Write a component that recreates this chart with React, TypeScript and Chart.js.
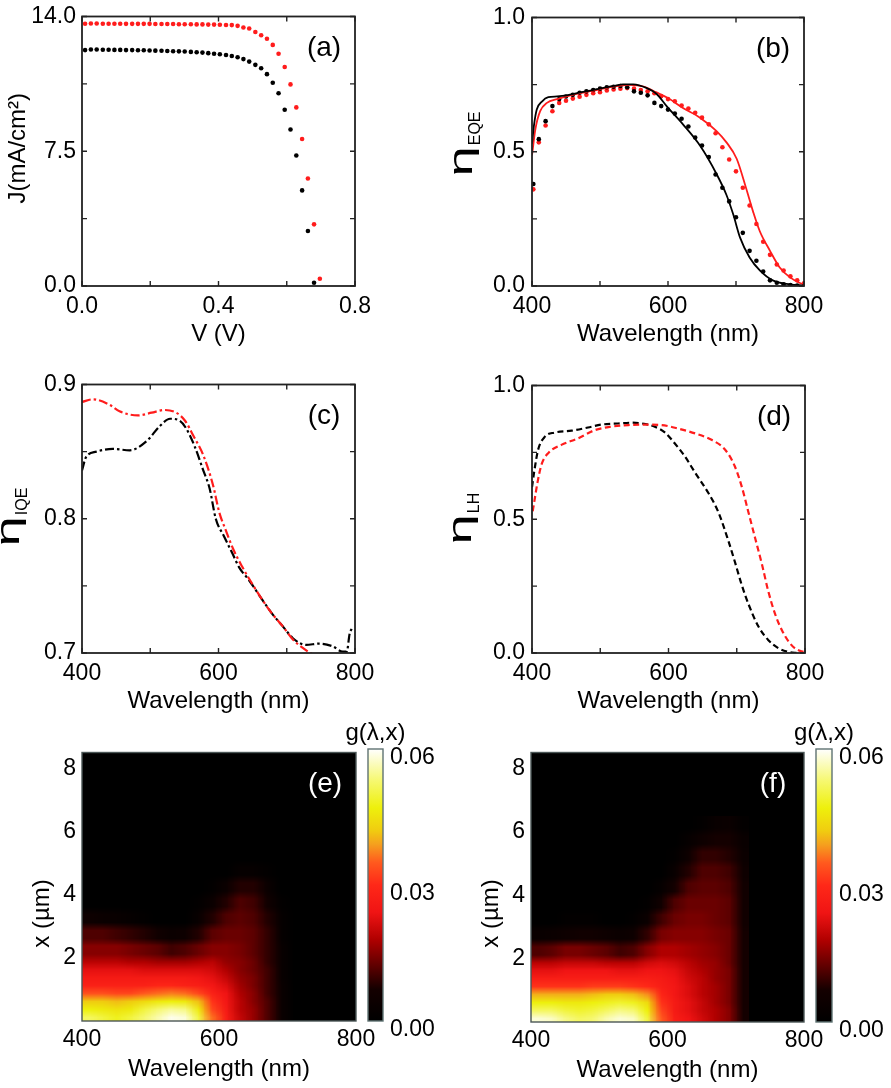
import React, { useEffect, useRef } from "react";
import { Chart, registerables } from "chart.js";
Chart.register(...registerables);

const FONT = '"Liberation Sans", Arial, Helvetica, sans-serif';
const RED = "#ff1c1c";
const BLACK = "#000000";

// ---------- (a) J–V ----------
const jvV = [0.009, 0.026, 0.043, 0.061, 0.078, 0.095, 0.112, 0.129, 0.147, 0.164, 0.181, 0.198, 0.215, 0.233, 0.25, 0.267, 0.284, 0.301, 0.319, 0.336, 0.353, 0.37, 0.387, 0.404, 0.422, 0.439, 0.456, 0.473, 0.49, 0.508, 0.525, 0.542, 0.559, 0.576, 0.594, 0.611, 0.628, 0.645, 0.662, 0.68, 0.697];
const jvJRed = [14.6, 14.61, 14.61, 14.6, 14.6, 14.6, 14.6, 14.59, 14.59, 14.59, 14.59, 14.59, 14.58, 14.58, 14.58, 14.58, 14.57, 14.57, 14.57, 14.56, 14.56, 14.55, 14.55, 14.54, 14.53, 14.52, 14.48, 14.39, 14.33, 14.14, 13.96, 13.76, 13.42, 12.93, 12.19, 11.22, 9.94, 8.18, 5.98, 3.43, 0.4];
const jvJBlack = [13.13, 13.16, 13.16, 13.15, 13.15, 13.14, 13.14, 13.13, 13.13, 13.12, 13.12, 13.11, 13.1, 13.09, 13.08, 13.07, 13.06, 13.05, 13.03, 13.01, 12.99, 12.96, 12.93, 12.9, 12.86, 12.8, 12.73, 12.63, 12.49, 12.31, 12.12, 11.79, 11.31, 10.73, 9.81, 8.71, 7.26, 5.32, 3.06, 0.18];
const aXTicks = [0, 0.2, 0.4, 0.6, 0.8];
const aXLabels = ["0.0", "", "0.4", "", "0.8"];
const aYTicks = [0, 3.75, 7.5, 11.25, 15];
const aYLabels = ["0.0", "", "7.5", "", "14.0"];

// ---------- (b) EQE ----------
const eqeDotWl = [402, 410, 420, 430, 440, 450, 460, 470, 480, 490, 500, 510, 520, 530, 540, 550, 560, 570, 580, 590, 600, 610, 620, 630, 640, 650, 660, 670, 680, 690, 700, 710, 720, 730, 740, 750, 760, 770, 780, 790, 800];
const eqeDotBlack = [0.38, 0.547, 0.614, 0.67, 0.696, 0.706, 0.712, 0.72, 0.725, 0.73, 0.735, 0.74, 0.742, 0.745, 0.74, 0.725, 0.72, 0.71, 0.682, 0.67, 0.657, 0.642, 0.623, 0.594, 0.553, 0.523, 0.48, 0.415, 0.366, 0.315, 0.256, 0.198, 0.131, 0.094, 0.054, 0.021, 0.012, 0.006, 0.004, 0.002, 0.001];
const eqeDotRed = [0.36, 0.535, 0.598, 0.651, 0.682, 0.69, 0.698, 0.705, 0.712, 0.718, 0.722, 0.728, 0.732, 0.735, 0.737, 0.735, 0.73, 0.725, 0.718, 0.707, 0.696, 0.688, 0.672, 0.661, 0.645, 0.627, 0.602, 0.569, 0.517, 0.471, 0.427, 0.366, 0.3, 0.231, 0.165, 0.116, 0.08, 0.058, 0.036, 0.021, 0.01];
const eqeLineWlBlack = [400, 403, 407, 415, 424, 437, 451, 471, 495, 520, 534, 549, 569, 583, 598, 622, 647, 671, 686, 696, 706, 720, 735, 754, 779, 800];
const eqeLineBlack = [0.53, 0.6, 0.657, 0.688, 0.703, 0.706, 0.71, 0.721, 0.733, 0.745, 0.751, 0.751, 0.737, 0.716, 0.67, 0.602, 0.523, 0.419, 0.339, 0.266, 0.18, 0.106, 0.058, 0.021, 0.006, 0.002];
const eqeLineWlRed = [400, 405, 412, 422, 437, 451, 471, 495, 520, 544, 564, 583, 600, 622, 647, 671, 686, 701, 715, 725, 735, 750, 764, 779, 794, 800];
const eqeLineRed = [0.486, 0.584, 0.651, 0.682, 0.696, 0.706, 0.718, 0.73, 0.743, 0.749, 0.743, 0.721, 0.7, 0.663, 0.627, 0.578, 0.535, 0.474, 0.363, 0.278, 0.204, 0.131, 0.07, 0.033, 0.011, 0.006];

const wlTicks = [400, 500, 600, 700, 800];
const wlLabels = ["400", "", "600", "", "800"];
const unitTicks = [0, 0.25, 0.5, 0.75, 1];
const unitLabels = ["0.0", "", "0.5", "", "1.0"];

// ---------- (c) IQE ----------
const iqeWlBlack = [400, 406, 421, 445, 470, 495, 514, 529, 543, 553, 565, 577, 587, 596, 608, 621, 630, 645, 665, 679, 694, 709, 728, 748, 767, 782, 788, 792, 795];
const iqeBlack = [0.836, 0.846, 0.85, 0.852, 0.851, 0.858, 0.869, 0.8745, 0.873, 0.867, 0.854, 0.837, 0.8225, 0.8, 0.787, 0.7735, 0.764, 0.754, 0.739, 0.729, 0.72, 0.711, 0.706, 0.707, 0.705, 0.701, 0.701, 0.714, 0.718];
const iqeWlRed = [400, 416, 440, 455, 482, 502, 521, 538, 551, 563, 578, 592, 601, 611, 621, 635, 650, 665, 679, 694, 709, 723, 738, 760];
const iqeRed = [0.887, 0.889, 0.885, 0.88, 0.877, 0.879, 0.881, 0.879, 0.873, 0.862, 0.847, 0.825, 0.805, 0.791, 0.778, 0.764, 0.751, 0.739, 0.729, 0.72, 0.71, 0.704, 0.699, 0.695];
const cYTicks = [0.7, 0.75, 0.8, 0.85, 0.9];
const cYLabels = ["0.7", "", "0.8", "", "0.9"];

// ---------- (d) light harvesting ----------
const lhWlBlack = [400, 403, 409, 419, 433, 458, 482, 502, 526, 546, 561, 580, 595, 609, 624, 639, 658, 673, 688, 697, 707, 717, 732, 746, 761, 776, 790];
const lhBlack = [0.62, 0.674, 0.76, 0.809, 0.824, 0.831, 0.843, 0.854, 0.858, 0.861, 0.858, 0.846, 0.824, 0.784, 0.735, 0.674, 0.6, 0.527, 0.417, 0.343, 0.257, 0.184, 0.098, 0.049, 0.018, 0.004, 0.0];
const lhWlRed = [401, 403, 408, 414, 424, 443, 468, 492, 516, 541, 565, 590, 614, 639, 663, 683, 697, 707, 717, 727, 737, 746, 756, 766, 776, 785, 795, 800];
const lhRed = [0.53, 0.56, 0.637, 0.705, 0.748, 0.778, 0.803, 0.833, 0.846, 0.852, 0.854, 0.852, 0.839, 0.821, 0.797, 0.76, 0.699, 0.625, 0.527, 0.429, 0.331, 0.233, 0.147, 0.086, 0.043, 0.018, 0.006, 0.003];

// ---------- (e), (f) generation maps g(λ,x), values in units of 1e-3 ----------
const heatWlEdges = [400, 420, 440, 460, 480, 500, 520, 540, 560, 580, 600, 620, 640, 660, 680, 700, 720];
const heatDepthEdges = [0, 0.25, 0.5, 0.75, 1, 1.25, 1.5, 1.75, 2, 2.5, 3, 3.5, 4, 4.5, 5, 5.5, 6, 6.5];
const genE = [
  [52, 50, 48, 50, 53, 56, 59, 58, 50, 36, 27, 20, 16, 11, 4, 0],
  [47, 46, 45, 46, 50, 53, 55, 54, 46, 33, 26, 19, 16, 11, 4, 0],
  [42, 42, 41, 42, 44, 46, 47, 46, 41, 31, 25, 19, 15, 11, 4, 0],
  [34, 34, 33, 33, 35, 36, 37, 36, 33, 28, 24, 18, 15, 10, 4, 0],
  [28, 28, 28, 28, 28, 29, 29, 28, 27, 25, 22, 17, 14, 10, 4, 0],
  [26, 26, 26, 26, 26, 26, 26, 26, 25, 23, 20, 16, 14, 10, 3, 0],
  [23, 23, 23, 23, 22, 22, 22, 22, 22, 21, 18, 15, 13, 10, 3, 0],
  [19, 19, 19, 18, 18, 17, 17, 17, 18, 19, 16, 15, 13, 9, 3, 0],
  [15, 15, 15, 14, 13, 12, 10, 11, 13, 15, 15, 14, 12, 9, 3, 0],
  [11, 11, 10, 9, 8, 6, 4, 5, 8, 12, 13, 13, 12, 9, 2, 0],
  [5, 4, 3, 2, 1, 0, 0, 0, 3, 8, 11, 12, 11, 8, 2, 0],
  [0, 0, 0, 0, 0, 0, 0, 0, 1, 4, 8, 11, 10, 6, 1, 0],
  [0, 0, 0, 0, 0, 0, 0, 0, 0, 1, 4, 8, 8, 4, 0, 0],
  [0, 0, 0, 0, 0, 0, 0, 0, 0, 0, 0, 2, 2, 1, 0, 0],
];
const genF = [
  [58, 57, 54, 52, 53, 56, 58, 57, 50, 35, 27, 24, 21, 18, 15, 7],
  [52, 52, 50, 49, 50, 52, 54, 53, 47, 33, 26, 23, 20, 18, 15, 7],
  [47, 47, 46, 46, 47, 48, 49, 48, 44, 31, 26, 23, 20, 17, 14, 7],
  [40, 40, 40, 40, 41, 42, 42, 41, 38, 29, 25, 22, 19, 17, 14, 7],
  [31, 31, 31, 31, 32, 32, 32, 31, 30, 27, 25, 22, 19, 17, 14, 7],
  [27, 27, 27, 27, 27, 27, 27, 27, 27, 26, 24, 21, 19, 16, 14, 7],
  [23, 23, 24, 24, 24, 24, 23, 23, 24, 24, 23, 20, 18, 16, 14, 7],
  [19, 19, 20, 20, 20, 19, 19, 19, 21, 22, 21, 19, 17, 16, 13, 7],
  [11, 12, 14, 14, 13, 12, 10, 11, 15, 18, 18, 17, 16, 15, 13, 7],
  [3, 4, 5, 6, 6, 5, 4, 5, 9, 14, 15, 15, 15, 14, 13, 7],
  [0, 0, 1, 1, 1, 0, 0, 1, 4, 10, 13, 14, 14, 13, 12, 6],
  [0, 0, 0, 0, 0, 0, 0, 0, 1, 6, 11, 13, 13, 13, 12, 6],
  [0, 0, 0, 0, 0, 0, 0, 0, 0, 2, 7, 11, 12, 12, 11, 6],
  [0, 0, 0, 0, 0, 0, 0, 0, 0, 0, 3, 8, 11, 11, 10, 5],
  [0, 0, 0, 0, 0, 0, 0, 0, 0, 0, 1, 5, 9, 9, 8, 4],
  [0, 0, 0, 0, 0, 0, 0, 0, 0, 0, 0, 2, 5, 7, 7, 3],
  [0, 0, 0, 0, 0, 0, 0, 0, 0, 0, 0, 0, 1, 3, 4, 1],
];
const genUnit = 0.001;
const heatXTicks = [400, 600, 800];
const heatXLabels = ["400", "600", "800"];
const heatYTicks = [2, 4, 6, 8];
const heatYLabels = ["2", "4", "6", "8"];
const cbTicks = [0, 0.03, 0.06];
const cbLabels = ["0.00", "0.03", "0.06"];
const cmapValues = [0, 0.007, 0.012, 0.018, 0.024, 0.03, 0.035, 0.039, 0.042, 0.047, 0.053, 0.06];
const cmapColors = ["#000000", "#140000", "#5c0000", "#b00000", "#f01414", "#ff2818", "#ff5a1e", "#f5a01e", "#f0cc10", "#eef00c", "#f6f870", "#ffffff"];

// ---------- helpers ----------
function hexRgb(h: string) {
  return [parseInt(h.slice(1, 3), 16), parseInt(h.slice(3, 5), 16), parseInt(h.slice(5, 7), 16)];
}
function cmapRgb(v: number): number[] {
  if (v <= cmapValues[0]) return hexRgb(cmapColors[0]);
  for (let i = 1; i < cmapValues.length; i++) {
    if (v <= cmapValues[i]) {
      const t = (v - cmapValues[i - 1]) / (cmapValues[i] - cmapValues[i - 1]);
      const a = hexRgb(cmapColors[i - 1]);
      const b = hexRgb(cmapColors[i]);
      return a.map((x, k) => Math.round(x + (b[k] - x) * t));
    }
  }
  return hexRgb(cmapColors[cmapColors.length - 1]);
}
const pts = (xs: number[], ys: number[]) => ys.map((y, i) => ({ x: xs[i], y }));

function mkAxis(pos: string, min: number, max: number, ticks: number[], labels: string[], size: number, pad: number, extra: any = {}) {
  const horizontal = pos === "bottom" || pos === "top";
  return {
    type: "linear",
    position: pos,
    min,
    max,
    grid: { display: false, drawTicks: false },
    border: { display: false },
    afterBuildTicks: (s: any) => {
      s.ticks = ticks.map((v) => ({ value: v }));
    },
    afterFit: (s: any) => {
      if (horizontal) s.height = size;
      else s.width = size;
    },
    ticks: {
      autoSkip: false,
      maxRotation: 0,
      minRotation: 0,
      padding: pad,
      color: "#000",
      font: { family: FONT, size: 23, lineHeight: 1 },
      callback: (v: number) => {
        const i = ticks.findIndex((t) => Math.abs(t - v) < 1e-9);
        return i >= 0 ? labels[i] : "";
      },
      ...extra,
    },
  };
}

const YA = 82;
const PT = 14;
const PR = 40;
const XA = 70;

function drawRotated(ctx: CanvasRenderingContext2D, text: string, cx: number, cy: number, size: number) {
  ctx.save();
  ctx.translate(cx, cy);
  ctx.rotate(-Math.PI / 2);
  ctx.font = `${size}px ${FONT}`;
  ctx.fillStyle = "#000";
  ctx.textAlign = "center";
  ctx.textBaseline = "middle";
  ctx.fillText(text, 0, 0);
  ctx.restore();
}
function drawEta(ctx: CanvasRenderingContext2D, baseX: number, startY: number, sub: string) {
  ctx.save();
  ctx.translate(baseX, startY);
  ctx.rotate(-Math.PI / 2);
  ctx.fillStyle = "#000";
  ctx.textAlign = "left";
  ctx.textBaseline = "alphabetic";
  ctx.font = `34px ${FONT}`;
  const stretch = 1.6;
  const w = ctx.measureText("η").width * stretch;
  ctx.save();
  ctx.scale(stretch, 1);
  ctx.fillText("η", 0, 0);
  ctx.restore();
  ctx.font = `16px ${FONT}`;
  ctx.fillText(sub, w + 1, 8);
  ctx.restore();
}

type FrameOpts = {
  xMarks: number[];
  yMarks: number[];
  tag: string;
  tagColor: string;
  frameColor: string;
  frameWidth: number;
  xTitle: string;
  yTitle: (ctx: CanvasRenderingContext2D, a: any) => void;
  heat?: number[][];
};

// renders the g(λ,x) cells; the half-µm bands are repeated so the grid is uniform,
// then the grid image is placed through the chart scales and smoothed on upscaling
function drawHeat(chart: any, heat: number[][]) {
  const { ctx, chartArea: a } = chart;
  const xs = chart.scales.x;
  const ys = chart.scales.y;
  const fine = 0.25;
  const depthMax = heatDepthEdges[heatDepthEdges.length - 1];
  const nRows = Math.round(depthMax / fine);
  const nCols = heatWlEdges.length - 1;
  const off = document.createElement("canvas");
  off.width = nCols;
  off.height = nRows;
  const octx = off.getContext("2d") as CanvasRenderingContext2D;
  const img = octx.createImageData(nCols, nRows);
  for (let k = 0; k < nRows; k++) {
    const depth = (k + 0.5) * fine;
    const r = heatDepthEdges.findIndex((e, i) => i < heatDepthEdges.length - 1 && depth >= e && depth < heatDepthEdges[i + 1]);
    const row = r >= 0 && r < heat.length ? heat[r] : null;
    const py = nRows - 1 - k;
    for (let c = 0; c < nCols; c++) {
      const v = row ? row[c] * genUnit : 0;
      const rgb = cmapRgb(v);
      const o = (py * nCols + c) * 4;
      img.data[o] = rgb[0];
      img.data[o + 1] = rgb[1];
      img.data[o + 2] = rgb[2];
      img.data[o + 3] = 255;
    }
  }
  octx.putImageData(img, 0, 0);
  ctx.save();
  ctx.beginPath();
  ctx.rect(a.left, a.top, a.right - a.left, a.bottom - a.top);
  ctx.clip();
  const bg = cmapRgb(0);
  ctx.fillStyle = `rgb(${bg[0]},${bg[1]},${bg[2]})`;
  ctx.fillRect(a.left, a.top, a.right - a.left, a.bottom - a.top);
  const x0 = xs.getPixelForValue(heatWlEdges[0]);
  const x1 = xs.getPixelForValue(heatWlEdges[nCols]);
  const y0 = ys.getPixelForValue(0);
  const y1 = ys.getPixelForValue(depthMax);
  ctx.imageSmoothingEnabled = true;
  ctx.drawImage(off, x0, y1, x1 - x0, y0 - y1);
  ctx.restore();
}

function framePlugin(o: FrameOpts) {
  return {
    id: "frame",
    beforeDatasetsDraw(chart: any) {
      if (o.heat) drawHeat(chart, o.heat);
    },
    afterDraw(chart: any) {
      const { ctx, chartArea: a } = chart;
      const xs = chart.scales.x;
      const ys = chart.scales.y;
      ctx.save();
      ctx.strokeStyle = o.frameColor;
      ctx.lineWidth = 1.4;
      const TL = 5;
      o.xMarks.forEach((v) => {
        const p = xs.getPixelForValue(v);
        ctx.beginPath();
        ctx.moveTo(p, a.bottom);
        ctx.lineTo(p, a.bottom - TL);
        ctx.moveTo(p, a.top);
        ctx.lineTo(p, a.top + TL);
        ctx.stroke();
      });
      o.yMarks.forEach((v) => {
        const p = ys.getPixelForValue(v);
        ctx.beginPath();
        ctx.moveTo(a.left, p);
        ctx.lineTo(a.left + TL, p);
        ctx.moveTo(a.right, p);
        ctx.lineTo(a.right - TL, p);
        ctx.stroke();
      });
      ctx.lineWidth = o.frameWidth;
      ctx.strokeRect(a.left, a.top, a.right - a.left, a.bottom - a.top);
      ctx.fillStyle = o.tagColor;
      ctx.font = `28px ${FONT}`;
      ctx.textAlign = "center";
      ctx.textBaseline = "middle";
      ctx.fillText(o.tag, a.right - 31, a.top + 32);
      ctx.fillStyle = "#000";
      ctx.font = `24px ${FONT}`;
      ctx.fillText(o.xTitle, (a.left + a.right) / 2, a.bottom + 48);
      o.yTitle(ctx, a);
      ctx.restore();
    },
  };
}

function lineChart(canvas: HTMLCanvasElement, datasets: any[], x: any, y: any, frame: FrameOpts) {
  return new Chart(canvas, {
    type: "scatter",
    data: { datasets },
    options: {
      responsive: false,
      animation: false,
      events: [],
      layout: { padding: { left: 0, top: PT, right: PR, bottom: 0 } },
      plugins: { legend: { display: false }, tooltip: { enabled: false } },
      scales: { x, y },
    } as any,
    plugins: [framePlugin(frame)],
  } as any);
}

const dots = (data: any[], color: string) => ({
  data,
  showLine: false,
  pointRadius: 2.3,
  pointBackgroundColor: color,
  pointBorderWidth: 0,
});
const curve = (data: any[], color: string, width: number, dash: number[] = []) => ({
  data,
  showLine: true,
  pointRadius: 0,
  borderColor: color,
  borderWidth: width,
  borderDash: dash,
  cubicInterpolationMode: "monotone",
  fill: false,
});

function ChartBox({ x, y, w, h, make }: { x: number; y: number; w: number; h: number; make: (c: HTMLCanvasElement) => Chart }) {
  const ref = useRef<HTMLCanvasElement>(null);
  useEffect(() => {
    const chart = make(ref.current as HTMLCanvasElement);
    return () => chart.destroy();
  }, []);
  return (
    <div style={{ position: "absolute", left: x, top: y, width: w, height: h }}>
      <canvas ref={ref} width={w} height={h} style={{ width: w, height: h, display: "block" }} />
    </div>
  );
}

const P = {
  a: [82, 13, 273, 273],
  b: [532, 13, 272, 273],
  c: [82, 381, 273, 272],
  d: [532, 381, 273, 272],
  e: [82, 749, 274, 272],
  f: [531, 749, 273, 273],
};
const box = (p: number[]) => ({ x: p[0] - YA, y: p[1] - PT, w: YA + p[2] + PR, h: PT + p[3] + XA });

function makeA(c: HTMLCanvasElement) {
  return lineChart(
    c,
    [dots(pts(jvV, jvJRed), RED), dots(pts(jvV, jvJBlack), BLACK)],
    mkAxis("bottom", 0, 0.8, aXTicks, aXLabels, XA, 9),
    mkAxis("left", 0, 15, aYTicks, aYLabels, YA, 6),
    {
      xMarks: aXTicks, yMarks: aYTicks, tag: "(a)", tagColor: "#000", frameColor: "#222", frameWidth: 1.8,
      xTitle: "V (V)",
      yTitle: (ctx, a) => drawRotated(ctx, "J(mA/cm²)", a.left - 64, (a.top + a.bottom) / 2 - 3, 24),
    }
  );
}
function makeB(c: HTMLCanvasElement) {
  return lineChart(
    c,
    [
      curve(pts(eqeLineWlBlack, eqeLineBlack), BLACK, 1.8),
      curve(pts(eqeLineWlRed, eqeLineRed), RED, 1.8),
      dots(pts(eqeDotWl, eqeDotBlack), BLACK),
      dots(pts(eqeDotWl, eqeDotRed), RED),
    ],
    mkAxis("bottom", 400, 800, wlTicks, wlLabels, XA, 9),
    mkAxis("left", 0, 1, unitTicks, unitLabels, YA, 7),
    {
      xMarks: wlTicks, yMarks: unitTicks, tag: "(b)", tagColor: "#000", frameColor: "#222", frameWidth: 1.8,
      xTitle: "Wavelength (nm)",
      yTitle: (ctx, a) => drawEta(ctx, a.left - 60, a.top + 159, "EQE"),
    }
  );
}
function makeC(c: HTMLCanvasElement) {
  return lineChart(
    c,
    [
      curve(pts(iqeWlRed, iqeRed), RED, 2.2, [9, 3, 2.5, 3]),
      curve(pts(iqeWlBlack, iqeBlack), BLACK, 2.2, [9, 3, 2.5, 3]),
    ],
    mkAxis("bottom", 400, 800, wlTicks, wlLabels, XA, 9),
    mkAxis("left", 0.7, 0.9, cYTicks, cYLabels, YA, 6),
    {
      xMarks: wlTicks, yMarks: cYTicks, tag: "(c)", tagColor: "#000", frameColor: "#222", frameWidth: 1.8,
      xTitle: "Wavelength (nm)",
      yTitle: (ctx, a) => drawEta(ctx, a.left - 63, a.top + 162, "IQE"),
    }
  );
}
function makeD(c: HTMLCanvasElement) {
  return lineChart(
    c,
    [
      curve(pts(lhWlRed, lhRed), RED, 2.2, [6, 3.5]),
      curve(pts(lhWlBlack, lhBlack), BLACK, 2.2, [6, 3.5]),
    ],
    mkAxis("bottom", 400, 800, wlTicks, wlLabels, XA, 9),
    mkAxis("left", 0, 1, unitTicks, unitLabels, YA, 7),
    {
      xMarks: wlTicks, yMarks: unitTicks, tag: "(d)", tagColor: "#000", frameColor: "#222", frameWidth: 1.8,
      xTitle: "Wavelength (nm)",
      yTitle: (ctx, a) => drawEta(ctx, a.left - 61, a.top + 159, "LH"),
    }
  );
}
function makeHeat(heat: number[][], tag: string) {
  return (c: HTMLCanvasElement) =>
    lineChart(
      c,
      [],
      mkAxis("bottom", 400, 800, heatXTicks, heatXLabels, XA, 7),
      mkAxis("left", 0, 8.5, heatYTicks, heatYLabels, YA, 6),
      {
        xMarks: [], yMarks: [], tag, tagColor: "#ffffff", frameColor: "#4a5656", frameWidth: 1.4,
        xTitle: "Wavelength (nm)",
        heat,
        yTitle: (ctx, a) => drawRotated(ctx, "x (µm)", a.left - 40, a.top + 161, 24),
      }
    );
}

const CB = { e: [368, 749, 15, 272], f: [816, 749, 16, 273] };
const CBL = 45;
const CBT = 40;
const CBR = 70;
const cbBox = (p: number[]) => ({ x: p[0] - CBL, y: p[1] - CBT, w: CBL + p[2] + CBR, h: CBT + p[3] + 20 });
function makeColorbar(c: HTMLCanvasElement) {
  return new Chart(c, {
    type: "scatter",
    data: { datasets: [] },
    options: {
      responsive: false,
      animation: false,
      events: [],
      layout: { padding: { left: CBL, top: CBT, right: 0, bottom: 20 } },
      plugins: { legend: { display: false }, tooltip: { enabled: false } },
      scales: {
        x: { type: "linear", display: false, min: 0, max: 1 },
        y: mkAxis("right", 0, 0.06, cbTicks, cbLabels, CBR, 7, { labelOffset: 9 }),
      },
    } as any,
    plugins: [
      {
        id: "cbar",
        beforeDatasetsDraw(chart: any) {
          const { ctx, chartArea: a } = chart;
          const ys = chart.scales.y;
          const y0 = ys.getPixelForValue(0);
          const y1 = ys.getPixelForValue(0.06);
          const g = ctx.createLinearGradient(0, y0, 0, y1);
          cmapValues.forEach((v, i) => g.addColorStop(v / 0.06, cmapColors[i]));
          ctx.save();
          ctx.fillStyle = g;
          ctx.fillRect(a.left, a.top, a.right - a.left, a.bottom - a.top);
          ctx.strokeStyle = "#5f7272";
          ctx.lineWidth = 1.4;
          ctx.strokeRect(a.left, a.top, a.right - a.left, a.bottom - a.top);
          ctx.fillStyle = "#000";
          ctx.font = `24px ${FONT}`;
          ctx.textAlign = "center";
          ctx.textBaseline = "middle";
          ctx.fillText("g(λ,x)", (a.left + a.right) / 2, a.top - 16);
          ctx.restore();
        },
      },
    ],
  } as any);
}

export default function App() {
  const items: [string, any, (c: HTMLCanvasElement) => Chart][] = [
    ["a", box(P.a), makeA],
    ["b", box(P.b), makeB],
    ["c", box(P.c), makeC],
    ["d", box(P.d), makeD],
    ["e", box(P.e), makeHeat(genE, "(e)")],
    ["f", box(P.f), makeHeat(genF, "(f)")],
    ["cbe", cbBox(CB.e), makeColorbar],
    ["cbf", cbBox(CB.f), makeColorbar],
  ];
  return (
    <div style={{ position: "absolute", left: 0, top: 0, width: 891, height: 1088, background: "#fff", overflow: "hidden" }}>
      {items.map(([k, b, m]) => (
        <ChartBox key={k} x={b.x} y={b.y} w={b.w} h={b.h} make={m} />
      ))}
    </div>
  );
}
